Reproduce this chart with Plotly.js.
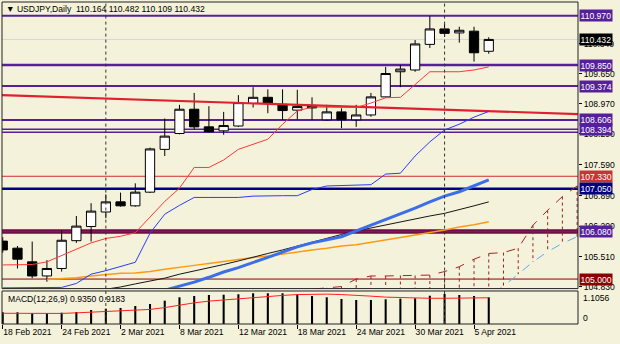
<!DOCTYPE html>
<html><head><meta charset="utf-8">
<script src="https://cdn.plot.ly/plotly-3.0.1.min.js"></script>
<style>html,body{margin:0;padding:0;background:#F4F2DA;}#chart{width:620px;height:344px;}</style>
</head><body><div id="chart"></div>
<script>
// ---- data ----
const dates = ['2021-02-18','2021-02-19','2021-02-22','2021-02-23','2021-02-24','2021-02-25','2021-02-26','2021-03-01','2021-03-02','2021-03-03','2021-03-04','2021-03-05','2021-03-08','2021-03-09','2021-03-10','2021-03-11','2021-03-12','2021-03-15','2021-03-16','2021-03-17','2021-03-18','2021-03-19','2021-03-22','2021-03-23','2021-03-24','2021-03-25','2021-03-26','2021-03-29','2021-03-30','2021-03-31','2021-04-01','2021-04-02','2021-04-05','2021-04-06'];
const openP  = [105.86,105.70,105.39,105.07,105.24,105.87,106.19,106.52,106.75,106.66,106.97,107.94,108.30,108.85,108.45,108.36,108.47,108.98,109.12,108.96,108.83,108.92,108.61,108.79,108.61,108.72,109.13,109.70,109.74,110.32,110.67,110.58,110.62,110.164];
const highP  = [105.95,105.75,105.85,105.43,106.10,106.43,106.72,106.92,106.96,107.17,107.98,108.64,108.95,109.22,108.92,108.79,109.17,109.35,109.30,109.30,109.29,109.12,108.95,108.87,108.95,109.22,109.81,109.85,110.42,110.96,110.78,110.72,110.72,110.482];
const lowP   = [105.60,105.24,105.02,104.94,105.17,105.82,105.85,106.38,106.64,106.64,106.95,107.79,108.28,108.39,108.32,108.27,108.45,108.89,108.76,108.61,108.62,108.61,108.59,108.42,108.45,108.68,109.12,109.35,109.70,110.24,110.49,110.36,109.93,110.109];
const closeP = [105.66,105.45,105.07,105.24,105.88,106.20,106.54,106.75,106.66,106.97,107.95,108.24,108.85,108.45,108.34,108.48,109.00,109.12,108.98,108.82,108.91,108.88,108.79,108.61,108.72,109.13,109.66,109.76,110.33,110.67,110.57,110.64,110.13,110.432];

const tenkan = [105.32,105.32,105.33,105.39,105.53,105.67,105.82,105.92,105.97,106.05,106.41,106.76,107.06,107.53,107.53,107.70,107.94,108.06,108.17,108.51,108.81,108.90,108.90,108.90,108.89,108.99,109.11,109.12,109.40,109.70,109.70,109.70,109.74,109.81];
const kijun  = [104.80,104.80,104.80,104.80,104.81,104.90,105.11,105.19,105.28,105.38,106.04,106.47,106.67,106.85,106.85,106.85,106.85,106.88,106.89,106.89,106.89,107.03,107.11,107.12,107.13,107.14,107.38,107.40,107.79,108.11,108.38,108.51,108.67,108.80];
const maBlue  = [null,null,null,null,null,null,null,null,null,null,null,104.75,104.84,104.93,105.04,105.16,105.26,105.37,105.49,105.61,105.73,105.82,105.89,105.96,106.09,106.22,106.34,106.47,106.61,106.75,106.88,106.98,107.12,107.25];
const maBlack = [null,null,null,null,null,null,null,104.77,104.82,104.89,104.95,105.02,105.11,105.18,105.26,105.33,105.41,105.50,105.58,105.66,105.75,105.83,105.92,106.01,106.09,106.16,106.23,106.29,106.36,106.43,106.49,106.57,106.66,106.75];
const maOrange= [null,null,null,104.99,105.01,105.03,105.07,105.10,105.13,105.14,105.17,105.22,105.27,105.31,105.35,105.40,105.44,105.49,105.52,105.57,105.61,105.66,105.70,105.75,105.78,105.83,105.88,105.94,106.00,106.05,106.11,106.18,106.23,106.30];
// Ichimoku cloud, bar index 0..40 (34..40 = future bars)
const senkouA = [null,null,null,null,null,null,null,null,null,null,null,null,null,null,null,null,null,null,null,null,104.70,104.77,104.80,104.83,105.00,105.07,105.07,105.08,105.08,105.09,105.17,105.28,105.45,105.58,105.60,105.70,106.22,106.56,106.87,107.11,107.25];
const senkouB = [null,null,null,null,null,null,null,null,null,null,null,null,null,null,null,null,null,null,null,null,104.45,104.45,104.47,104.47,104.50,104.50,104.52,104.52,104.55,104.55,104.58,104.58,104.60,104.62,104.84,105.11,105.39,105.62,105.81,105.96,106.02];
// trend line (bar index, price)
const trendIdx = [-1, 40];
const trendPrice = [109.18, 108.73];
// horizontal levels
const levelPrices = [110.970,109.850,109.374,108.606,108.394,108.330,107.330,107.050,106.080,106.080,105.000];
const levelColors = ['#55209A','#55209A','#55209A','#55209A','#55209A','#55209A','#D03030','#000080','#7A0A2E','#55209A','#8B0000'];
const levelWidths = [2,2.5,2,2,1.5,1.5,1,2.5,4.5,1.5,1];
const boxPrices = [110.970,110.432,109.850,109.374,108.606,108.394,107.330,107.050,106.080,105.000];
const boxColors = ['#55209A','#000000','#55209A','#55209A','#55209A','#55209A','#C83434','#000080','#55209A','#8B0000'];
const bidPrice = 110.432;
// MACD
const macdHist = [0.41,0.41,0.385,0.375,0.396,0.42,0.49,0.536,0.56,0.63,0.70,0.816,0.935,0.98,1.015,1.026,1.04,1.075,1.075,1.075,1.04,0.98,0.935,0.875,0.84,0.84,0.865,0.886,0.90,0.99,1.05,1.015,0.98,0.935];
const macdSignal = [0.375,0.37,0.36,0.355,0.37,0.39,0.41,0.43,0.445,0.465,0.51,0.575,0.66,0.74,0.80,0.845,0.89,0.935,0.97,1.0,1.03,1.05,1.045,1.03,1.015,0.975,0.94,0.92,0.905,0.90,0.90,0.90,0.905,0.9183];
const priceTicks = [110.340,109.650,108.970,108.290,107.590,106.890,106.200,105.510,104.830];
const dateTickIdx = [0,4,8,12,16,20,24,28,32];
const dateTickText = ['18 Feb 2021','24 Feb 2021','2 Mar 2021','8 Mar 2021','12 Mar 2021','18 Mar 2021','24 Mar 2021','30 Mar 2021','5 Apr 2021'];

// ---- build ----
const idx = dates.map((d,i)=>i);
const cloudIdx = senkouA.map((d,i)=>i);
const FONT = 'Liberation Sans, Arial, sans-serif';
const BG = '#F4F2DA';

const hx=[], hy=[];
cloudIdx.forEach(i=>{ if(senkouA[i]!=null && senkouB[i]!=null){ hx.push(i,i,null); hy.push(senkouA[i],senkouB[i],null);} });

const traces = [
 {type:'scatter',mode:'lines',x:hx,y:hy,line:{color:'#9B2020',width:1,dash:'dot'},hoverinfo:'skip'},
 {type:'scatter',mode:'lines',x:cloudIdx,y:senkouA,line:{color:'#A02828',width:1,dash:'dash'}},
 {type:'scatter',mode:'lines',x:cloudIdx,y:senkouB,line:{color:'#5AAEF0',width:1,dash:'dash'}},
 {type:'scatter',mode:'lines',x:trendIdx,y:trendPrice,line:{color:'#E0202E',width:2.2}},
 {type:'scatter',mode:'lines',x:idx,y:maOrange,line:{color:'#FF9A10',width:1.5}},
 {type:'scatter',mode:'lines',x:idx,y:maBlack,line:{color:'#151515',width:1}},
 {type:'scatter',mode:'lines',x:idx,y:maBlue,line:{color:'#3C6EEA',width:3}},
 {type:'scatter',mode:'lines',x:idx,y:kijun,line:{color:'#2A3CF5',width:1}},
 {type:'scatter',mode:'lines',x:idx,y:tenkan,line:{color:'#FF3838',width:1}},
 {type:'candlestick',x:idx,open:openP,high:highP,low:lowP,close:closeP,whiskerwidth:0,
  increasing:{line:{color:'#000',width:1},fillcolor:'#FFFFFF'},
  decreasing:{line:{color:'#000',width:1},fillcolor:'#000000'},hoverinfo:'skip'},
 {type:'bar',x:idx,y:macdHist,width:0.14,marker:{color:'#000'},xaxis:'x',yaxis:'y2'},
 {type:'scatter',mode:'lines',x:idx,y:macdSignal,line:{color:'#FF2020',width:1},xaxis:'x',yaxis:'y2'}
];

const shapes = [];
levelPrices.forEach((p,k)=>shapes.push({type:'line',xref:'x domain',yref:'y',x0:0,x1:1,y0:p,y1:p,line:{color:levelColors[k],width:levelWidths[k]},layer:'below'}));
shapes.push({type:'line',xref:'x domain',yref:'y',x0:0,x1:1,y0:bidPrice,y1:bidPrice,line:{color:'#D4D2F0',width:1},layer:'below'});
// month separators
dates.forEach((d,i)=>{ if(i>0 && d.slice(5,7)!==dates[i-1].slice(5,7)){
  ['y','y2'].forEach(ax=>shapes.push({type:'line',xref:'x',yref:ax+' domain',x0:i,x1:i,y0:0,y1:1,line:{color:'#333',width:1,dash:'3px,3px'},layer:'above'}));
}});
// panel borders
['y','y2'].forEach(ax=>shapes.push({type:'rect',xref:'x domain',yref:ax+' domain',x0:0,x1:1,y0:0,y1:1,line:{color:'#222',width:1},layer:'above'}));

const annotations = [];
boxPrices.forEach((p,k)=>annotations.push({xref:'paper',yref:'y',x:1,y:p,xanchor:'left',yanchor:'middle',xshift:1,
  text:p.toFixed(3),showarrow:false,bgcolor:boxColors[k],borderpad:0.5,font:{family:FONT,size:8.6,color:'#FFFFFF'}}));
annotations.push({xref:'paper',yref:'paper',x:0,y:0.979,xanchor:'left',yanchor:'middle',xshift:2,showarrow:false,
  text:'▼ USDJPY,Daily  '+[openP[33],highP[33],lowP[33],closeP[33]].map(v=>v.toFixed(3)).join(' '),font:{family:FONT,size:8.6,color:'#000'}});
annotations.push({xref:'paper',yref:'paper',x:0,y:0.077,xanchor:'left',yanchor:'middle',xshift:4,showarrow:false,
  text:'MACD(12,26,9) '+macdHist[33].toFixed(4)+' '+macdSignal[33].toFixed(4),font:{family:FONT,size:8.6,color:'#000'}});
annotations.push({xref:'paper',yref:'paper',x:1,y:0.082,xanchor:'left',yanchor:'middle',xshift:3,showarrow:false,text:'1.1056',font:{family:FONT,size:8.6,color:'#000'}});
annotations.push({xref:'paper',yref:'paper',x:1,y:0.018,xanchor:'left',yanchor:'middle',xshift:3,showarrow:false,text:'0',font:{family:FONT,size:8.6,color:'#000'}});

const layout = {
  width:620,height:344,margin:{l:2,r:42,t:2,b:20},
  paper_bgcolor:BG,plot_bgcolor:BG,showlegend:false,hovermode:false,
  font:{family:FONT,size:8.6,color:'#000'},
  boxgap:0.37,boxgroupgap:0,
  xaxis:{range:[-0.05,39.06],anchor:'y2',showgrid:false,zeroline:false,showline:false,
    rangeslider:{visible:false},tickvals:dateTickIdx,ticktext:dateTickText,ticks:'outside',ticklen:4,tickcolor:'#000',
    ticklabelposition:'outside right',tickfont:{family:FONT,size:8.6,color:'#000'}},
  yaxis:{domain:[0.110,1],range:[104.784,111.281],side:'right',showgrid:false,zeroline:false,showline:false,
    tickvals:priceTicks,ticktext:priceTicks.map(v=>v.toFixed(3)),ticks:'outside',ticklen:3,tickcolor:'#000',
    tickfont:{family:FONT,size:8.6,color:'#000'}},
  yaxis2:{domain:[0,0.1025],range:[0,1.155],side:'right',showgrid:false,zeroline:false,showline:false,showticklabels:false,ticks:''},
  shapes:shapes,annotations:annotations
};
Plotly.newPlot('chart',traces,layout,{staticPlot:true,displayModeBar:false});
</script></body></html>
